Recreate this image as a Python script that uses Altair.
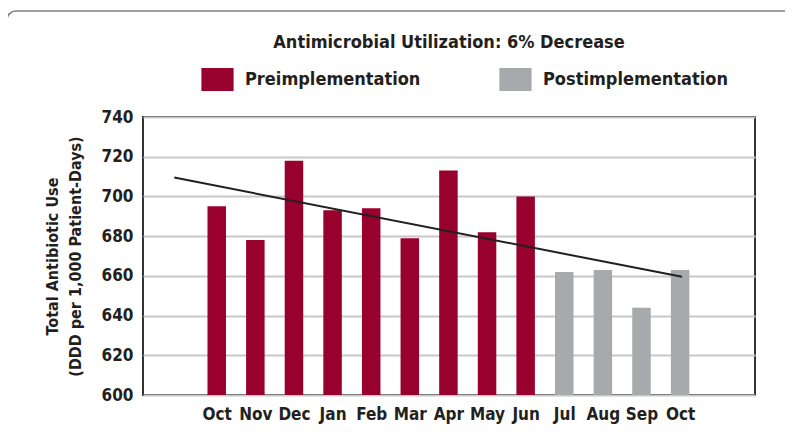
import altair as alt
import pandas as pd

months = ["Oct", "Nov", "Dec", "Jan", "Feb", "Mar", "Apr", "May", "Jun", "Jul", "Aug", "Sep", "Oct"]
values = [695, 678, 718, 693, 694, 679, 713, 682, 700, 662, 663, 644, 663]
phases = ["Preimplementation"] * 9 + ["Postimplementation"] * 4
trend_x = [-1.1, 12.05]
trend_y = [709.5, 659.5]
y_ticks = [600, 620, 640, 660, 680, 700, 720, 740]

FONT = "DejaVu Sans Condensed, Liberation Sans Narrow, sans-serif"
RED = "#98002e"
GRAY = "#a7a9ac"
INK = "#231f20"

bars_df = pd.DataFrame({"idx": list(range(len(months))), "month": months, "value": values, "phase": phases})
trend_df = pd.DataFrame({"x": trend_x, "y": trend_y})

label_expr = "[" + ",".join(f"'{m}'" for m in months) + "][round(datum.value)]"

xscale = alt.Scale(domain=[-1.78, 13.81], nice=False, zero=False)
yscale = alt.Scale(domain=[600, 740], nice=False, zero=False)

x_axis = alt.Axis(values=list(range(len(months))), labelExpr=label_expr, title=None,
                  grid=False, ticks=False, domain=False, labelPadding=11,
                  labelFontSize=17, labelFont=FONT, labelFontWeight="bold",
                  labelColor=INK, labelFlush=False, labelOverlap=False)
y_axis = alt.Axis(values=y_ticks, title=["Total Antibiotic Use", "(DDD per 1,000 Patient-Days)"],
                  titleFontSize=16, titleFont=FONT, titleFontWeight="bold", titleColor=INK,
                  titlePadding=18, titleLineHeight=23,
                  labelFontSize=17, labelFont=FONT, labelFontWeight="bold", labelColor=INK,
                  ticks=False, domain=False, labelPadding=10, labelOverlap=False,
                  labelFlush=False, grid=True, gridColor="#c8c8c8", gridWidth=2)

frame = alt.Chart(pd.DataFrame({"a": [0]})).mark_rect(
    fill=None, stroke="#808080", strokeWidth=1.6, cornerRadius=9, clip=False
).encode(
    x=alt.value(-136), x2=alt.value(700), y=alt.value(-106), y2=alt.value(380)
)

bars = alt.Chart(bars_df).mark_bar(size=18.5, clip=True).encode(
    x=alt.X("idx:Q", scale=xscale, axis=x_axis),
    y=alt.Y("value:Q", scale=yscale, axis=y_axis),
    color=alt.Color("phase:N",
                    scale=alt.Scale(domain=["Preimplementation", "Postimplementation"], range=[RED, GRAY]),
                    legend=alt.Legend(title=None, orient="none", legendX=63, legendY=-49,
                                      direction="horizontal", columns=2, columnPadding=78,
                                      symbolType="M-1.4,-1L1.4,-1L1.4,1L-1.4,1Z", symbolSize=529,
                                      symbolStrokeWidth=0, symbolOpacity=1,
                                      labelFontSize=18, labelFont=FONT, labelFontWeight="bold",
                                      labelColor=INK, labelOffset=16, padding=0, labelLimit=300)),
)

trend = alt.Chart(trend_df).mark_line(color=INK, strokeWidth=2).encode(
    x=alt.X("x:Q", scale=xscale, axis=x_axis), y=alt.Y("y:Q", scale=yscale, axis=y_axis)
)

chart = alt.layer(frame, bars, trend).properties(
    width=612, height=278,
    title=alt.TitleParams("Antimicrobial Utilization: 6% Decrease", fontSize=18, font=FONT,
                          fontWeight="bold", color=INK, anchor="middle", offset=-42),
    autosize=alt.AutoSizeParams(type="none"),
    padding={"left": 135, "top": 109, "right": 30, "bottom": 48},
).configure(background="white").configure_view(stroke="#333333", strokeWidth=2)

chart.save("out.html", embed_options={"renderer": "svg", "actions": False})
